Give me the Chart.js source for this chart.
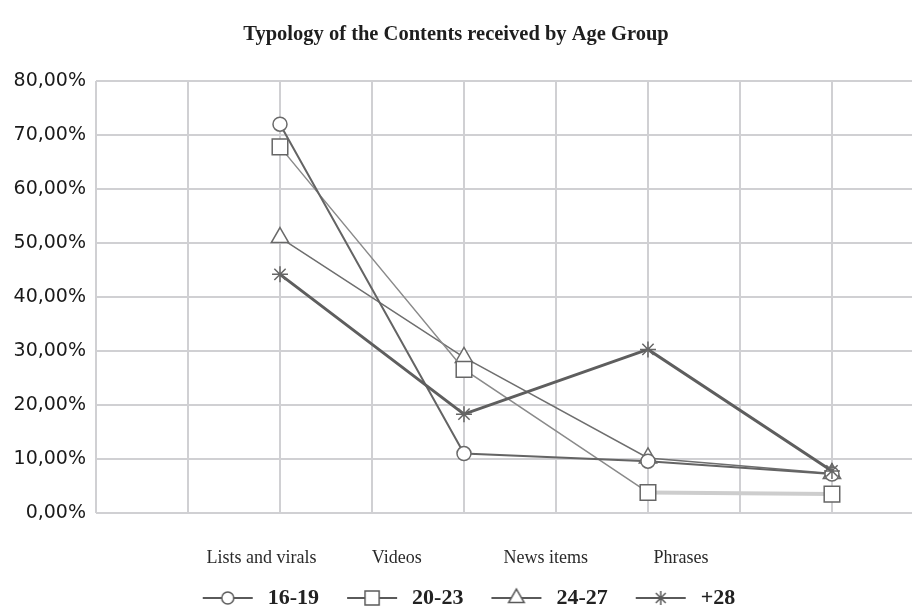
<!DOCTYPE html>
<html>
<head>
<meta charset="utf-8">
<script src="https://cdn.jsdelivr.net/npm/chart.js@4/dist/chart.umd.min.js"></script>
<style>
  body { margin: 0; background: #fff; }
  #wrap { width: 912px; height: 609px; }
</style>
</head>
<body>
<div id="wrap"><canvas id="chart"></canvas></div>
<script>
// data (percent)
const categories = ['Lists and virals', 'Videos', 'News items', 'Phrases'];
const ageGroups = ['16-19', '20-23', '24-27', '+28'];
const age16_19 = [72.0, 11.0, 9.6, 7.2];
const age20_23 = [67.8, 26.6, 3.8, 3.5];
const age24_27 = [51.0, 28.8, 10.2, 7.3];
const age28 = [44.2, 18.3, 30.3, 7.8];
const yTicks = [0, 10, 20, 30, 40, 50, 60, 70, 80];

// layout: the grid has a vertical line per unit, points sit on every 2nd line,
// category labels are placed where the original put them
const xMax = 8.87;
const labelSlots = [1.8, 3.27, 4.89, 6.36];

const fmtPct = v => v.toFixed(2).replace('.', ',') + '%';

function toPoints(vals) {
  return vals.map((v, i) => ({ x: 2 * (i + 1), y: v }));
}

function legendIcon(style, radius) {
  const c = document.createElement('canvas');
  c.width = 80; c.height = 24;
  const g = c.getContext('2d');
  g.strokeStyle = '#5a5a5a';
  g.lineWidth = 2;
  g.beginPath(); g.moveTo(26, 12); g.lineTo(76, 12); g.stroke();
  g.fillStyle = '#fff';
  g.lineWidth = 1.5;
  Chart.helpers.drawPoint(g, { pointStyle: style, radius: radius, borderWidth: 1.5, rotation: 0 }, 51, 12);
  return c;
}

const icons = [legendIcon('circle', 6), legendIcon('rect', 10), legendIcon('triangle', 9), legendIcon('star', 7)];

const ctx = document.getElementById('chart');

new Chart(ctx, {
  type: 'line',
  data: {
    datasets: [
      {
        label: ageGroups[0],
        data: toPoints(age16_19),
        borderColor: '#646464',
        borderWidth: 2,
        pointStyle: 'circle',
        pointRadius: 7,
        pointBorderWidth: 1.5,
        pointBackgroundColor: '#fff',
        pointBorderColor: '#6a6a6a',
        order: 2
      },
      {
        label: ageGroups[1],
        data: toPoints(age20_23),
        borderColor: '#8a8a8a',
        borderWidth: 1.5,
        segment: {
          borderColor: c => c.p0DataIndex === 2 ? '#cdcdcd' : undefined,
          borderWidth: c => c.p0DataIndex === 2 ? 4 : undefined
        },
        pointStyle: 'rect',
        pointRadius: 11,
        pointBorderWidth: 1.5,
        pointBackgroundColor: '#fff',
        pointBorderColor: '#666',
        order: 3
      },
      {
        label: ageGroups[2],
        data: toPoints(age24_27),
        borderColor: '#6e6e6e',
        borderWidth: 1.5,
        pointStyle: 'triangle',
        pointRadius: 10,
        pointBorderWidth: 1.5,
        pointBackgroundColor: '#fff',
        pointBorderColor: '#6a6a6a',
        order: 4
      },
      {
        label: ageGroups[3],
        data: toPoints(age28),
        borderColor: '#5e5e5e',
        borderWidth: 3,
        pointStyle: 'star',
        pointRadius: 8,
        pointBorderWidth: 1.5,
        pointBackgroundColor: '#fff',
        pointBorderColor: '#666',
        order: 1
      }
    ]
  },
  options: {
    responsive: true,
    maintainAspectRatio: false,
    animation: false,
    layout: { padding: { left: 0, right: 0, top: 0, bottom: -10 }, autoPadding: false },
    plugins: {
      title: {
        display: true,
        text: 'Typology of the Contents received by Age Group',
        color: '#1e1e1e',
        font: { family: 'Liberation Serif', size: 20.5, weight: 'bold' },
        padding: { top: 22, bottom: 34.4 }
      },
      legend: {
        position: 'bottom',
        labels: {
          usePointStyle: true,
          pointStyleWidth: 80,
          padding: 2,
          color: '#222',
          font: { family: 'Liberation Serif', size: 22, weight: 'bold' },
          generateLabels: chart => chart.data.datasets.map((ds, i) => ({
            text: ds.label,
            pointStyle: icons[i],
            fillStyle: '#fff',
            strokeStyle: '#666',
            lineWidth: 0,
            fontColor: '#222',
            datasetIndex: i,
            hidden: false
          }))
        }
      },
      tooltip: { enabled: false }
    },
    scales: {
      x: {
        type: 'linear',
        min: 0,
        max: xMax,
        afterBuildTicks: s => { s.ticks = s.ticks.filter(t => Number.isInteger(t.value)); },
        afterFit: s => { s.height = 0; },
        ticks: { display: false, stepSize: 1 },
        grid: { color: '#d0d0d3', lineWidth: 2, drawTicks: false },
        border: { display: false }
      },
      xLab: {
        type: 'linear',
        position: 'bottom',
        min: 0,
        max: xMax,
        afterBuildTicks: s => { s.ticks = labelSlots.map(v => ({ value: v })); },
        afterFit: s => { s.height = 72; },
        ticks: {
          autoSkip: false,
          maxRotation: 0,
          padding: 26,
          color: '#2a2a2a',
          font: { family: 'Liberation Serif', size: 18 },
          callback: (v, i) => categories[i]
        },
        grid: { display: false },
        border: { display: false }
      },
      y: {
        min: 0,
        max: 80,
        afterBuildTicks: s => { s.ticks = yTicks.map(v => ({ value: v })); },
        afterFit: s => { s.width = 96; },
        ticks: {
          padding: 10,
          color: '#1a1a1a',
          font: { family: 'DejaVu Sans', size: 19 },
          callback: v => fmtPct(v)
        },
        grid: { color: '#d0d0d3', lineWidth: 2, drawTicks: false },
        border: { display: false }
      }
    }
  }
});
</script>
</body>
</html>
